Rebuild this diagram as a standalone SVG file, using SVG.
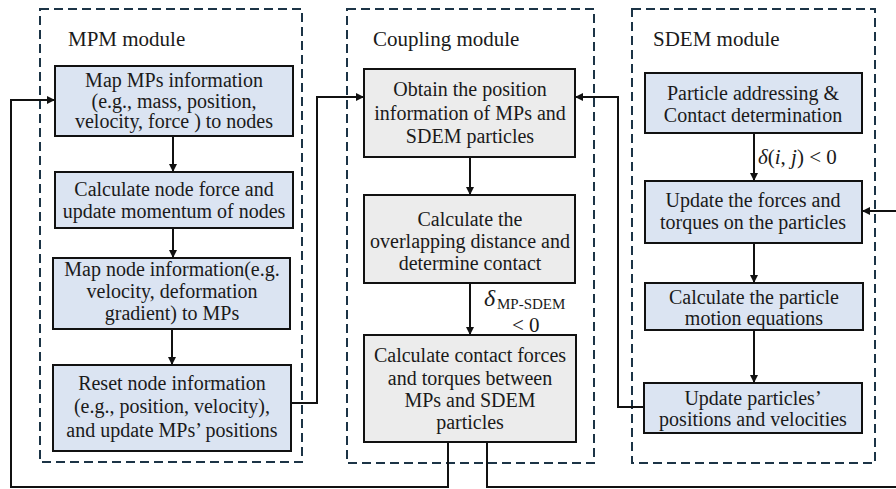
<svg xmlns="http://www.w3.org/2000/svg" width="896" height="489" viewBox="0 0 896 489">
<defs>
<style>
.mod{fill:none;stroke:#1c3446;stroke-width:2;stroke-dasharray:9 5}
.blue{fill:#dbe4f2;stroke:#111;stroke-width:2}
.gray{fill:#ececec;stroke:#111;stroke-width:2}
text{font-family:"Liberation Serif","Times New Roman",serif;fill:#1a1a1a}
.t{font-size:20px;text-anchor:middle}
.title{font-size:21px}
.c{fill:none;stroke:#111;stroke-width:2}
</style>
<marker id="ah" viewBox="0 0 10 10" refX="10" refY="5" markerWidth="5" markerHeight="5" orient="auto" markerUnits="userSpaceOnUse">
<path d="M0,0 L10,5 L0,10 z" fill="#111"/>
</marker>
<marker id="a" viewBox="0 0 10 10" refX="10" refY="5" markerWidth="9" markerHeight="8" orient="auto" markerUnits="userSpaceOnUse">
<path d="M0,0 L10,5 L0,10 z" fill="#111"/>
</marker>
</defs>
<rect width="896" height="489" fill="#fff"/>

<g id="mpm-module">
<rect class="mod" x="40" y="9" width="262" height="453"/>
<text class="title" x="68" y="46">MPM module</text>
</g>
<g id="coupling-module">
<rect class="mod" x="347" y="9" width="247" height="454"/>
<text class="title" x="373" y="46">Coupling module</text>
</g>
<g id="sdem-module">
<rect class="mod" x="632" y="9" width="243" height="454"/>
<text class="title" x="653" y="46">SDEM module</text>
</g>

<g id="m1">
<rect class="blue" x="55" y="66" width="238" height="70"/>
<text class="t" x="174" y="87">Map MPs information</text>
<text class="t" x="174" y="108">(e.g., mass, position,</text>
<text class="t" x="174" y="128">velocity, force ) to nodes</text>
</g>
<g id="m2">
<rect class="blue" x="55" y="172" width="238" height="56"/>
<text class="t" x="174" y="196">Calculate node force and</text>
<text class="t" x="174" y="218">update momentum of nodes</text>
</g>
<g id="m3">
<rect class="blue" x="53" y="258" width="237" height="71"/>
<text class="t" x="172" y="276">Map node information(e.g.</text>
<text class="t" x="172" y="298">velocity, deformation</text>
<text class="t" x="172" y="320">gradient) to MPs</text>
</g>
<g id="m4">
<rect class="blue" x="53" y="365" width="238" height="86"/>
<text class="t" x="172" y="390">Reset node  information</text>
<text class="t" x="172" y="413">(e.g., position, velocity),</text>
<text class="t" x="172" y="437">and update MPs’ positions</text>
</g>

<g id="c1">
<rect class="gray" x="364" y="69" width="211" height="88"/>
<text class="t" x="470" y="96">Obtain the position</text>
<text class="t" x="470" y="120">information of MPs and</text>
<text class="t" x="470" y="143">SDEM particles</text>
</g>
<g id="c2">
<rect class="gray" x="364" y="195" width="211" height="88"/>
<text class="t" x="470" y="226">Calculate the</text>
<text class="t" x="470" y="248">overlapping distance and</text>
<text class="t" x="470" y="270">determine contact</text>
</g>
<g id="c3">
<rect class="gray" x="364" y="335" width="212" height="107"/>
<text class="t" x="470" y="362">Calculate contact forces</text>
<text class="t" x="470" y="385">and torques between</text>
<text class="t" x="470" y="407">MPs and SDEM</text>
<text class="t" x="470" y="429">particles</text>
</g>

<g id="s1">
<rect class="blue" x="645" y="73" width="217" height="60"/>
<text class="t" x="753" y="100">Particle addressing &amp;</text>
<text class="t" x="753" y="122">Contact determination</text>
</g>
<g id="s2">
<rect class="blue" x="645" y="181" width="217" height="62"/>
<text class="t" x="753" y="207">Update the forces and</text>
<text class="t" x="753" y="229">torques on the particles</text>
</g>
<g id="s3">
<rect class="blue" x="645" y="283" width="218" height="47"/>
<text class="t" x="754" y="304">Calculate the particle</text>
<text class="t" x="754" y="325">motion equations</text>
</g>
<g id="s4">
<rect class="blue" x="644" y="383" width="218" height="50"/>
<text class="t" x="753" y="405">Update particles’</text>
<text class="t" x="753" y="426">positions and velocities</text>
</g>

<g id="connectors">
<path class="c" d="M173,136 V172" marker-end="url(#a)"/>
<path class="c" d="M173,228 V258" marker-end="url(#a)"/>
<path class="c" d="M172,329 V365" marker-end="url(#a)"/>
<path class="c" d="M291,403 H317 V97 H364" marker-end="url(#a)"/>
<path class="c" d="M448,442 V487 H11 V100 H55" marker-end="url(#a)"/>
<path class="c" d="M487,442 V487 H900"/>
<path class="c" d="M900,211 H862" marker-end="url(#a)"/>
<path class="c" d="M470,157 V195" marker-end="url(#a)"/>
<path class="c" d="M470,283 V335" marker-end="url(#a)"/>
<path class="c" d="M754,133 V181" marker-end="url(#a)"/>
<path class="c" d="M754,243 V283" marker-end="url(#a)"/>
<path class="c" d="M754,330 V383" marker-end="url(#a)"/>
<path class="c" d="M644,407 H618 V97 H575" marker-end="url(#a)"/>
</g>
<g id="labels">
<text x="484" y="306" style="font-size:24px;font-style:italic">δ</text>
<text x="497" y="309" style="font-size:15px">MP-SDEM</text>
<text x="512" y="332" style="font-size:21px">&lt; 0</text>
<text x="758" y="164" style="font-size:21px"><tspan font-style="italic">δ</tspan>(<tspan font-style="italic">i</tspan>, <tspan font-style="italic">j</tspan>) &lt; 0</text>
</g>
</svg>
